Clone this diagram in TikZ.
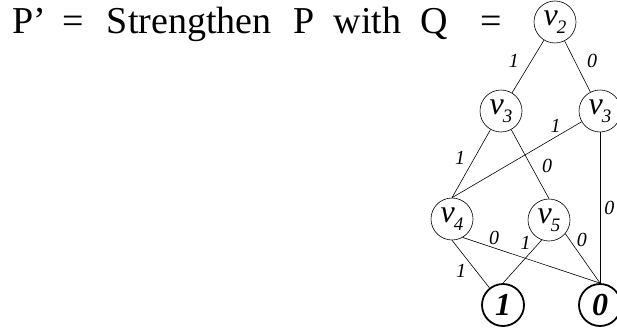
\documentclass[tikz,border=0pt]{standalone}
\usepackage{fontspec}
\setmainfont{Liberation Serif}
\usepackage{tikz}
\usetikzlibrary{positioning}

\newcommand{\vname}[1]{v\kern-1pt\raisebox{-8pt}{\fontsize{19}{19}\selectfont #1}}

\begin{document}
\begin{tikzpicture}[x=1pt, y=-1pt,
    var/.style={circle, draw, line width=0.6pt, minimum size=42pt, inner sep=0pt,
                font=\fontsize{32}{32}\selectfont\itshape},
    leaf/.style={circle, draw, line width=1.8pt, minimum size=42pt, inner sep=0pt,
                 font=\fontsize{32}{32}\selectfont\bfseries\itshape},
    lbl/.style={font=\fontsize{20}{20}\selectfont\itshape, inner sep=1pt},
    edge/.style={line width=0.6pt}]
  \useasboundingbox (0,0) rectangle (617,329);

  % heading
  \node[anchor=base west, inner sep=0pt, font=\fontsize{38}{42}\selectfont] (title) at (12.5,34)
    {P’\hspace{16pt}=\hspace{23pt}Strengthen\hspace{22pt}P\hspace{19pt}with\hspace{19pt}Q\hspace{33pt}=};

  % the diagram Q
  \node[var] (v2)  at (555,22)  {\vname{2}};
  \node[var] (v3a) at (501,111) {\vname{3}};
  \node[var] (v3b) at (600,111) {\vname{3}};
  \node[var] (v4)  at (452,219) {\vname{4}};
  \node[var] (v5)  at (549,220) {\vname{5}};
  \node[leaf] (one)  at (503,305) {1};
  \node[leaf] (zero) at (600,305) {0};

  \draw[edge] (v2) -- node[lbl, pos=0.4, left=11pt] {1} (v3a);
  \draw[edge] (v2) -- node[lbl, pos=0.4, right=11pt] {0} (v3b);
  \draw[edge] (v3a) -- node[lbl, pos=0.42, left=8pt] {1} (v4.north);
  \draw[edge] (v3a) -- node[lbl, pos=0.52, right=10pt] {0} (v5.north);
  \draw[edge] (v3b) -- node[lbl, pos=0.2, above=3pt] {1} (v4.north);
  \draw[edge] (v3b) -- node[lbl, pos=0.5, right=3pt] {0} (zero.north);
  \draw[edge] (v4.south) -- node[lbl, pos=0.45, below left=2pt] {1} (one);
  \draw[edge] (v4.-60) -- node[lbl, pos=0.23, above=2pt] {0} (zero.north);
  \draw[edge] (v5.-110) -- node[lbl, pos=0.25, above left=0pt] {1} (one.north);
  \draw[edge] (v5.-40) -- node[lbl, pos=0.12, right=6pt] {0} (zero.north);
\end{tikzpicture}
\end{document}
